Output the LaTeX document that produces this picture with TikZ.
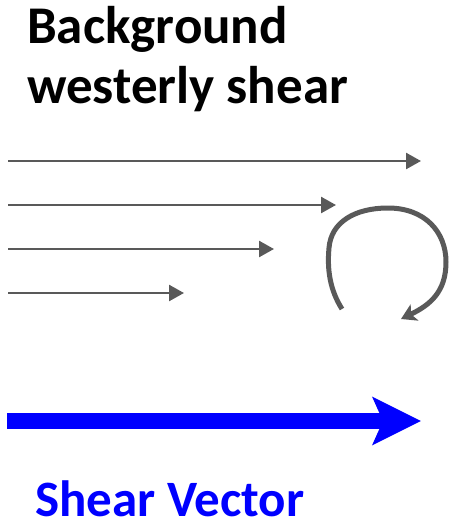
\documentclass[tikz,border=0pt]{standalone}
\usepackage{fontspec}
\setmainfont{Carlito}
\usetikzlibrary{arrows.meta}
\definecolor{windGray}{HTML}{595959}
\definecolor{shearBlue}{HTML}{0000FF}
\tikzset{
	shearText/.style={
		anchor=base west,
		inner sep=0pt,
		align=left
	},
	shearTitle/.style={shearText, font=\fontsize{53}{60}\selectfont\bfseries},
	shearLabel/.style={shearText, text=shearBlue, font=\fontsize{51}{55}\selectfont\bfseries},
	windFlow/.style={-{Triangle[length=15pt,width=16pt]}, line width=2.5pt, draw=windGray},
	swirlFlow/.style={-{Stealth[length=15pt,width=18pt,inset=4pt]}, line width=5pt, draw=windGray},
	shearFlow/.style={-{Stealth[length=48pt,width=47pt,inset=10pt]}, line width=16pt, draw=shearBlue}
}

\begin{document}
\begin{tikzpicture}[x=1pt,y=-1pt]

			\useasboundingbox (0,0) rectangle (448,525);

			% Title (base anchor sits on the last line)
			\node[shearTitle] (title) at (27,103) {Background\\westerly shear};

			% Westerly wind arrows
			\coordinate (w1a) at (8,161);  \coordinate (w1b) at (421,161);
			\coordinate (w2a) at (8,205);  \coordinate (w2b) at (336,205);
			\coordinate (w3a) at (8,249);  \coordinate (w3b) at (274,249);
			\coordinate (w4a) at (8,293);  \coordinate (w4b) at (184,293);
			\foreach \w in {1,...,4}
				\draw[windFlow] (w\w a) -- (w\w b);

			% Rotation
			\coordinate (swirlStart) at (342,309);
			\coordinate (swirlEnd) at (401,319);
			\draw[swirlFlow] (swirlStart) .. controls (330,290) and (327,270) .. (329,248)
				.. controls (331,222) and (355,208) .. (388,208)
				.. controls (425,208) and (446,232) .. (446,262)
				.. controls (446,292) and (430,305) .. (swirlEnd);

			% Shear vector
			\coordinate (shearTail) at (7,421);
			\coordinate (shearHead) at (421,421);
			\draw[shearFlow] (shearTail) -- (shearHead);
			\node[shearLabel] (shearText) at (35,516) {Shear Vector};

		\end{tikzpicture}
\end{document}
